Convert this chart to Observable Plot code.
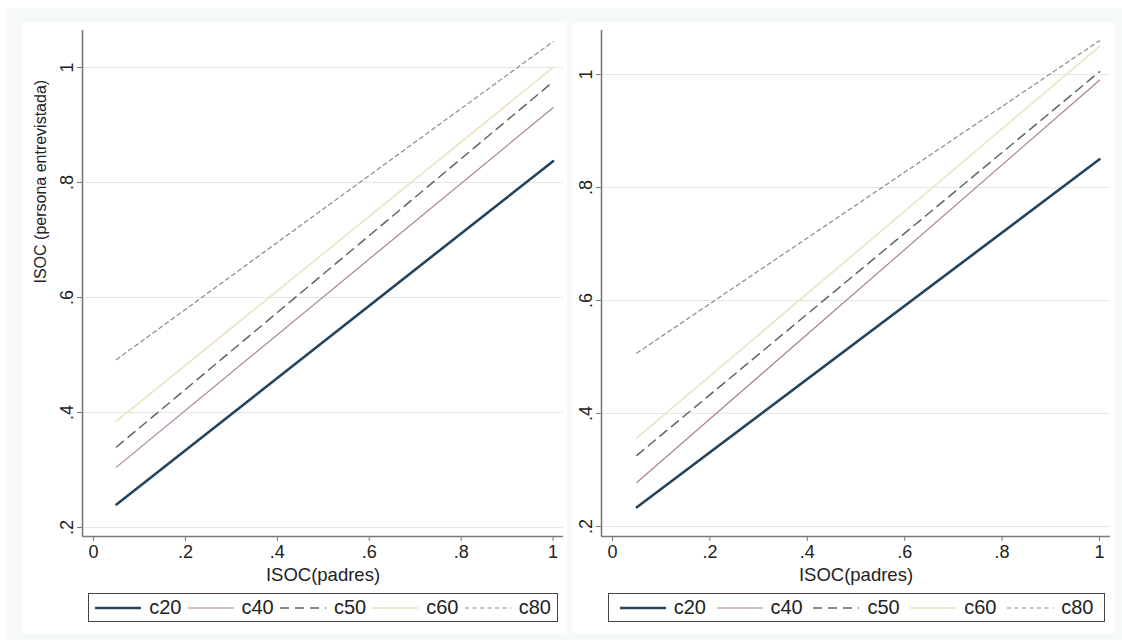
<!DOCTYPE html>
<html>
<head>
<meta charset="utf-8">
<script src="https://cdn.jsdelivr.net/npm/d3@7"></script>
<script src="https://cdn.jsdelivr.net/npm/@observablehq/plot@0.6"></script>
<style>
  html, body { margin: 0; padding: 0; background: #fff; width: 1122px; height: 643px; overflow: hidden; }
  body { font-family: "Liberation Sans", Arial, sans-serif; position: relative; }
  .frame { position: absolute; left: 7px; top: 8px; width: 1115px; height: 632px; background: #f5f9f9; }
  .panel { position: absolute; top: 23px; height: 610px; background: #fff; }
  .chart { position: absolute; left: 0; top: 0; }
  .legend { position: absolute; top: 570px; height: 29px; border: 1.5px solid #444; background: #fff;
            display: flex; justify-content: space-evenly; align-items: center; box-sizing: border-box; }
  .item { display: flex; align-items: center; gap: 8px; font-size: 20px; color: #222; }
  .item svg { display: block; }
</style>
</head>
<body>
<div class="frame"></div>
<div class="panel" id="left" style="left:22px; width:545px;"></div>
<div class="panel" id="right" style="left:572px; width:543px;"></div>
<script>
// ---- data ----
const series = ["c20", "c40", "c50", "c60", "c80"];
const xPoints = [0.05, 1];
const leftStart = [0.24, 0.305, 0.34, 0.385, 0.492];
const leftEnd   = [0.837, 0.93, 0.975, 1.0, 1.045];
const rightStart = [0.234, 0.278, 0.326, 0.357, 0.507];
const rightEnd   = [0.85, 0.99, 1.005, 1.05, 1.06];
const xTicks = [0, 0.2, 0.4, 0.6, 0.8, 1];
const yTicks = [0.2, 0.4, 0.6, 0.8, 1];
const xTitle = "ISOC(padres)";
const yTitle = "ISOC (persona entrevistada)";

// ---- styles ----
const styles = {
  c20: {stroke: "#24445e", strokeWidth: 2.6, dash: null},
  c40: {stroke: "#a8848e", strokeWidth: 1.2, dash: null},
  c50: {stroke: "#5a6b5a", strokeWidth: 1.5, dash: "9,6"},
  c60: {stroke: "#ece2c4", strokeWidth: 1.6, dash: null},
  c80: {stroke: "#8a8a8a", strokeWidth: 1.2, dash: "4,3.5"}
};

const fmt = d => d === 0 ? "0" : d === 1 ? "1" : d3.format(".1f")(d).replace(/^0/, "");

function rows(starts, ends) {
  const out = [];
  series.forEach((s, i) => {
    out.push({series: s, x: xPoints[0], y: starts[i]});
    out.push({series: s, x: xPoints[1], y: ends[i]});
  });
  return out;
}

function makePlot({data, width, marginLeft, marginRight, xDomain, yDomain, showYTitle}) {
  const marks = [
    Plot.gridY(yTicks, {stroke: "#e6e6e6", strokeOpacity: 1, strokeWidth: 1}),
    ...series.map(s => Plot.line(data.filter(d => d.series === s), {
      x: "x", y: "y", stroke: styles[s].stroke, strokeWidth: styles[s].strokeWidth,
      strokeDasharray: styles[s].dash
    })),
    Plot.ruleX([xDomain[0]], {stroke: "#7a7a7a", strokeWidth: 1.6}),
    Plot.ruleY([yDomain[0]], {stroke: "#7a7a7a", strokeWidth: 1.6}),
    Plot.axisX(xTicks, {tickSize: 5, tickPadding: 4, tickFormat: fmt, label: null,
      stroke: "#7a7a7a", fill: "#222"}),
    Plot.axisY(yTicks, {tickSize: 5, tickPadding: 5, tickFormat: fmt, label: null, tickRotate: -90,
      stroke: "#7a7a7a", fill: "#222"}),
    Plot.text([xTitle], {frameAnchor: "bottom", lineAnchor: "top", dy: 31, fontSize: 18.5, fill: "#222"})
  ];
  if (showYTitle) {
    marks.push(Plot.text([yTitle], {frameAnchor: "left", rotate: -90, dx: -42, fontSize: 16, fill: "#222"}));
  }
  return Plot.plot({
    width, height: 560,
    marginLeft, marginRight, marginTop: 7, marginBottom: 47,
    x: {domain: xDomain, axis: null},
    y: {domain: yDomain, axis: null},
    style: {background: "transparent", fontFamily: "'Liberation Sans', Arial, sans-serif", fontSize: "18px", overflow: "visible"},
    marks
  });
}

function legend(left, width) {
  const div = document.createElement("div");
  div.className = "legend";
  div.style.left = left + "px";
  div.style.width = width + "px";
  series.forEach(s => {
    const item = document.createElement("div");
    item.className = "item";
    const st = styles[s];
    item.innerHTML = `<svg width="46" height="10"><line x1="0" x2="46" y1="5" y2="5" stroke="${st.stroke}" stroke-width="${st.strokeWidth}" ${st.dash ? `stroke-dasharray="${st.dash}"` : ""}/></svg><span>${s}</span>`;
    div.appendChild(item);
  });
  return div;
}

const left = document.getElementById("left");
const lp = makePlot({data: rows(leftStart, leftEnd), width: 545, marginLeft: 60, marginRight: 4,
  xDomain: [-0.024, 1.0227], yDomain: [0.1843, 1.0643], showYTitle: true});
lp.classList.add("chart");
left.appendChild(lp);
left.appendChild(legend(66, 470));

const right = document.getElementById("right");
const rp = makePlot({data: rows(rightStart, rightEnd), width: 543, marginLeft: 29, marginRight: 5,
  xDomain: [-0.0226, 1.0226], yDomain: [0.1823, 1.078], showYTitle: false});
rp.classList.add("chart");
right.appendChild(rp);
right.appendChild(legend(36, 497));
</script>
</body>
</html>
